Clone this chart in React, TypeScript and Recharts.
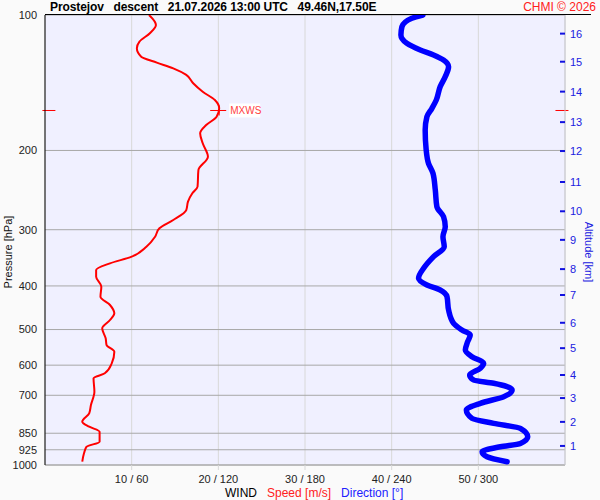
import React from "react";
import {
  ScatterChart,
  Scatter,
  XAxis,
  YAxis,
  CartesianGrid,
  ReferenceLine,
  ReferenceDot,
} from "recharts";

// wind speed profile (hPa, m/s)
const speedPressure = [
  100, 105.2, 109.8, 114.6, 118.6, 123.8, 127.6, 131.4, 135.9, 141.8, 148.1,
  154.5, 161.2, 168.3, 175.6, 183.2, 192.8, 206.5, 221.1, 240.8, 249, 259.9,
  271.3, 285.5, 297.9, 311, 327.3, 344.4, 356.3, 368.7, 381.5, 401.6, 422.7,
  441, 460.2, 476.2, 496.9, 523, 541.2, 560.1, 594.3, 625.5, 641.7, 687.3,
  735.6, 767.5, 801.2, 821.9, 843.3, 887.6, 910.6, 941.9, 983.3,
];
const speedValues = [
  12.0, 12.8, 12.1, 10.9, 10.6, 11.1, 12.9, 14.8, 16.3, 17.1, 18.2, 19.6, 20.1,
  19.8, 18.6, 17.9, 18.2, 18.8, 17.7, 17.6, 17.0, 16.5, 16.3, 14.8, 13.2, 12.7,
  11.7, 10.0, 7.5, 5.9, 5.9, 6.5, 6.4, 7.5, 8.0, 7.5, 6.6, 7.0, 7.1, 8.0, 7.7,
  6.9, 5.6, 5.7, 5.3, 5.1, 4.3, 5.1, 6.3, 6.3, 4.8, 4.5, 4.3,
];

// wind direction profile (hPa, deg)
const dirPressure = [
  100, 101.7, 106.2, 110.8, 115.6, 119.6, 122.7, 125.9, 130.3, 137.1, 144.3,
  154.5, 161.2, 168.3, 180.2, 199.5, 213.6, 224.8, 244.9, 266.7, 280.7, 295.4,
  311, 327.3, 344.4, 365.5, 384.7, 398.1, 408.5, 422.7, 452.3, 484.3, 501.2,
  514.2, 532.1, 555.4, 574.7, 594.3, 609.7, 631, 647.4, 658.4, 681.3, 705.1,
  729.4, 754.8, 787.6, 808, 828.9, 865.4, 895.4, 911, 934.1, 958.7, 983.3,
];
const dirValues = [
  261.6, 254.0, 247.1, 246.4, 250.5, 259.8, 269.0, 275.9, 279.4, 277.1, 273.6,
  270.9, 267.9, 264.4, 263.2, 263.9, 265.5, 268.6, 270.2, 271.3, 275.9, 277.1,
  275.5, 276.4, 269.0, 262.1, 258.6, 264.4, 273.6, 278.3, 279.4, 282.9, 288.7,
  294.4, 292.6, 291.0, 295.6, 303.7, 301.4, 294.0, 296.7, 310.6, 323.4, 317.6,
  301.4, 291.7, 295.6, 310.6, 329.1, 334.2, 329.1, 315.3, 302.6, 306.0, 319.9,
];

const pressureTicks = [100, 200, 300, 400, 500, 600, 700, 850, 925, 1000];
const speedTicks = [10, 20, 30, 40, 50];
const altitudeKm = [1, 2, 3, 4, 5, 6, 7, 8, 9, 10, 11, 12, 13, 14, 15, 16];
const altitudePressure = [
  907, 802, 710, 631, 550, 483, 419, 367, 316, 273, 235, 200.6, 173, 148, 127,
  110,
];

const maxWind = { p: 163, v: 20.1 };

const speedData = speedPressure.map((p, i) => ({ p, v: speedValues[i] }));
const dirData = dirPressure.map((p, i) => ({ p, v: dirValues[i] }));

const FONT = '"Liberation Sans", Arial, sans-serif';

const AltTick = (props: any) => {
  const { x, y, payload } = props;
  const i = altitudePressure.indexOf(payload.value);
  return (
    <g>
      <line x1={x - 5} x2={x} y1={y} y2={y} stroke="#1010E0" strokeWidth={2} />
      <text x={x + 5} y={y} dy={4} fill="#2020E0" fontSize={11} fontFamily={FONT}>
        {altitudeKm[i]}
      </text>
    </g>
  );
};

const MaxWindMark = (props: any) => {
  const { cx, cy } = props;
  return (
    <g>
      <line x1={cx - 9} x2={cx + 7} y1={cy} y2={cy} stroke="#FF0000" />
      <line x1={cx} x2={cx} y1={cy - 5} y2={cy + 5} stroke="#FF0000" />
      <rect x={cx + 10} y={cy - 7} width={31} height={14} fill="#FFFFFF" />
      <text x={cx + 11} y={cy + 4} fill="#FF4040" fontSize={10} fontFamily={FONT}>
        MXWS
      </text>
    </g>
  );
};

// rotated axis title, a little below the axis middle like the original
const sideTitle = (text: string, color: string, dx: number, angle: number) => (props: any) => {
  const { viewBox } = props;
  const x = viewBox.x + dx;
  const y = viewBox.y + viewBox.height / 2 + 12;
  return (
    <text
      x={x}
      y={y}
      transform={`rotate(${angle}, ${x}, ${y})`}
      textAnchor="middle"
      dominantBaseline="central"
      fill={color}
      fontSize={11}
      fontFamily={FONT}
    >
      {text}
    </text>
  );
};

const noDot = () => <g />;

export default function App() {
  return (
    <div
      style={{
        position: "absolute",
        left: 0,
        top: 0,
        width: 600,
        height: 500,
        background: "#FAFAFA",
        fontFamily: FONT,
      }}
    >
      <div
        style={{
          position: "absolute",
          left: 50,
          top: 0,
          fontSize: 12,
          fontWeight: "bold",
          letterSpacing: -0.1,
          whiteSpace: "pre",
          color: "#000",
        }}
      >
        {"Prostejov   descent   21.07.2026 13:00 UTC   49.46N,17.50E"}
      </div>
      <div
        style={{
          position: "absolute",
          right: 4,
          top: 0,
          fontSize: 12,
          color: "#FF2020",
        }}
      >
        CHMI © 2026
      </div>
      <ScatterChart
        width={600}
        height={500}
        margin={{ top: 15, right: 0, bottom: 0, left: 0 }}
      >
        <CartesianGrid
          xAxisId="spd"
          yAxisId="p"
          horizontal={false}
          stroke="#D8D8D8"
          fill="#F0F0FF"
        />
        <CartesianGrid
          xAxisId="spd"
          yAxisId="p"
          vertical={false}
          stroke="#A8A8A8"
        />
        <XAxis
          xAxisId="spd"
          type="number"
          dataKey="v"
          domain={[0, 60]}
          ticks={speedTicks}
          allowDataOverflow
          height={35}
          tickFormatter={(v) => `${v} / ${v * 6}`}
          tick={{ fontSize: 11, fill: "#222", fontFamily: FONT }}
          tickSize={5}
          tickMargin={5}
          tickLine={{ stroke: "#D8D8D8" }}
          axisLine={{ stroke: "#A8A8A8" }}
        />
        <XAxis
          xAxisId="dir"
          orientation="top"
          type="number"
          dataKey="v"
          domain={[0, 360]}
          allowDataOverflow
          height={0}
          hide
        />
        <YAxis
          yAxisId="p"
          type="number"
          dataKey="p"
          scale="log"
          domain={[100, 1000]}
          reversed
          allowDataOverflow
          ticks={pressureTicks}
          interval={0}
          width={45}
          tickLine={false}
          axisLine={{ stroke: "#000" }}
          tick={{ fontSize: 11, fill: "#222", fontFamily: FONT }}
          label={{ content: sideTitle("Pressure [hPa]", "#111", 8, -90) }}
        />
        <YAxis
          yAxisId="alt"
          orientation="right"
          type="number"
          scale="log"
          domain={[100, 1000]}
          reversed
          allowDataOverflow
          ticks={altitudePressure}
          interval={0}
          width={35}
          tickSize={0}
          tickMargin={0}
          tick={<AltTick />}
          axisLine={{ stroke: "#C8C8D0" }}
          label={{ content: sideTitle("Altitude [km]", "#2020E0", 24, 90) }}
        />
        <Scatter
          xAxisId="dir"
          yAxisId="p"
          data={dirData}
          line={{ stroke: "#0000FF", strokeWidth: 5.5, strokeLinejoin: "round", strokeLinecap: "round" }}
          lineJointType="monotoneY"
          shape={noDot}
          fill="none"
          isAnimationActive={false}
        />
        <Scatter
          xAxisId="spd"
          yAxisId="p"
          data={speedData}
          line={{ stroke: "#FF0000", strokeWidth: 2 }}
          lineJointType="monotoneY"
          shape={noDot}
          fill="none"
          isAnimationActive={false}
        />
        <ReferenceLine
          xAxisId="spd"
          yAxisId="p"
          segment={[
            { x: -0.3, y: maxWind.p },
            { x: 1.2, y: maxWind.p },
          ]}
          stroke="#FF0000"
          ifOverflow="visible"
        />
        <ReferenceLine
          xAxisId="spd"
          yAxisId="p"
          segment={[
            { x: 58.9, y: maxWind.p },
            { x: 60.4, y: maxWind.p },
          ]}
          stroke="#FF0000"
          ifOverflow="visible"
        />
        <ReferenceDot
          xAxisId="spd"
          yAxisId="p"
          x={maxWind.v}
          y={maxWind.p}
          shape={<MaxWindMark />}
          ifOverflow="visible"
        />
      </ScatterChart>
      <div
        style={{
          position: "absolute",
          left: 45,
          top: 14,
          width: 546,
          height: 1,
          background: "#000",
        }}
      />
      <div
        style={{
          position: "absolute",
          left: 225,
          top: 486,
          fontSize: 12,
          whiteSpace: "pre",
          color: "#000",
        }}
      >
        WIND{"   "}
        <span style={{ color: "#FF2020" }}>Speed [m/s]</span>
        {"   "}
        <span style={{ color: "#2020FF" }}>Direction [°]</span>
      </div>
    </div>
  );
}
